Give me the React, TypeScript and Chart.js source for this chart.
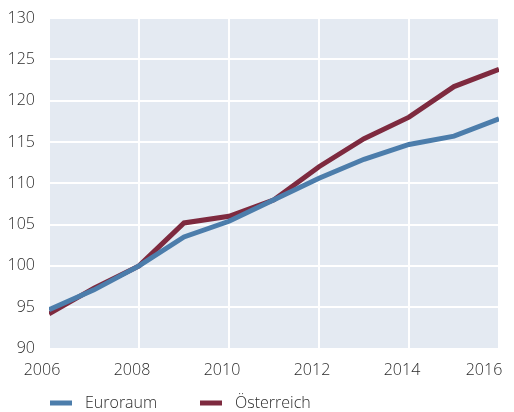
import React, { useEffect, useRef } from "react";
import { Chart, registerables } from "chart.js";

Chart.register(...registerables);

const years = [2006, 2007, 2008, 2009, 2010, 2011, 2012, 2013, 2014, 2015, 2016];
const euroraum = [94.7, 97.1, 100.0, 103.5, 105.4, 108.0, 110.6, 112.9, 114.7, 115.7, 117.8];
const oesterreich = [94.2, 97.3, 100.0, 105.2, 106.0, 108.0, 112.0, 115.4, 118.0, 121.7, 123.8];
const seriesNames = ["Euroraum", "Österreich"];
const seriesColors = ["#4c7dab", "#7e2a3f"];
const yMin = 90;
const yMax = 130;
const yStep = 5;
const xStep = 2;

const FONT_FAMILY = "'Open Sans', sans-serif";

const bgPlugin = {
  id: "plotBg",
  beforeDraw(chart: any) {
    const { ctx, chartArea } = chart;
    if (!chartArea) return;
    ctx.save();
    ctx.fillStyle = "#e4eaf2";
    ctx.fillRect(chartArea.left, chartArea.top, chartArea.right - chartArea.left, chartArea.bottom - chartArea.top);
    ctx.restore();
  },
};

const legendPlugin = {
  id: "customLegend",
  afterDraw(chart: any) {
    const { ctx } = chart;
    const items = chart.data.datasets;
    const starts = [50, 200];
    const y = 403;
    ctx.save();
    ctx.font = `300 16px ${FONT_FAMILY}`;
    ctx.textBaseline = "middle";
    ctx.textAlign = "left";
    items.forEach((ds: any, i: number) => {
      const x = starts[i];
      ctx.fillStyle = ds.borderColor;
      ctx.fillRect(x, y - 2.5, 22, 5);
      ctx.fillStyle = "#2b2b2b";
      ctx.fillText(ds.label, x + 35, y);
    });
    ctx.restore();
  },
};

export default function App() {
  const ref = useRef<HTMLCanvasElement | null>(null);
  useEffect(() => {
    if (!ref.current) return;
    const font = { family: FONT_FAMILY, size: 16, weight: "300" as any };
    const chart = new Chart(ref.current, {
      type: "line",
      data: {
        datasets: [euroraum, oesterreich].map((vals, i) => ({
          label: seriesNames[i],
          data: years.map((y, j) => ({ x: y, y: vals[j] })),
          borderColor: seriesColors[i],
          backgroundColor: seriesColors[i],
          borderWidth: 5,
          pointRadius: 0,
          tension: 0,
          fill: false,
        })),
      },
      options: {
        responsive: false,
        animation: false,
        layout: { padding: { left: 0, right: 15, top: 18, bottom: 33.5 } },
        plugins: {
          legend: { display: false },
          tooltip: { enabled: false },
        },
        scales: {
          x: {
            type: "linear",
            min: years[0],
            max: years[years.length - 1],
            ticks: {
              stepSize: xStep,
              color: "#2b2b2b",
              font,
              callback: (v: any) => (v === years[years.length - 1] ? String(v) + "\u2003" : String(v)),
              padding: 12,
              maxRotation: 0,
              labelOffset: -7,
            },
            grid: { color: "#ffffff", lineWidth: 2, drawTicks: false },
            border: { display: false },
            afterFit: (s: any) => { s.height = 30; s.paddingLeft = 0; s.paddingRight = 0; },
          },
          y: {
            min: yMin,
            max: yMax,
            ticks: { stepSize: yStep, color: "#2b2b2b", font, padding: 14 },
            grid: { color: "#ffffff", lineWidth: 2, drawTicks: false },
            border: { display: false },
            afterFit: (s: any) => { s.width = 49; s.paddingTop = 0; s.paddingBottom = 0; },
          },
        },
      },
      plugins: [bgPlugin, legendPlugin],
    });
    return () => chart.destroy();
  }, []);
  return (
    <div style={{ position: "absolute", left: 0, top: 0, width: 514, height: 412 }}>
      <canvas ref={ref} width={514} height={412} />
    </div>
  );
}
